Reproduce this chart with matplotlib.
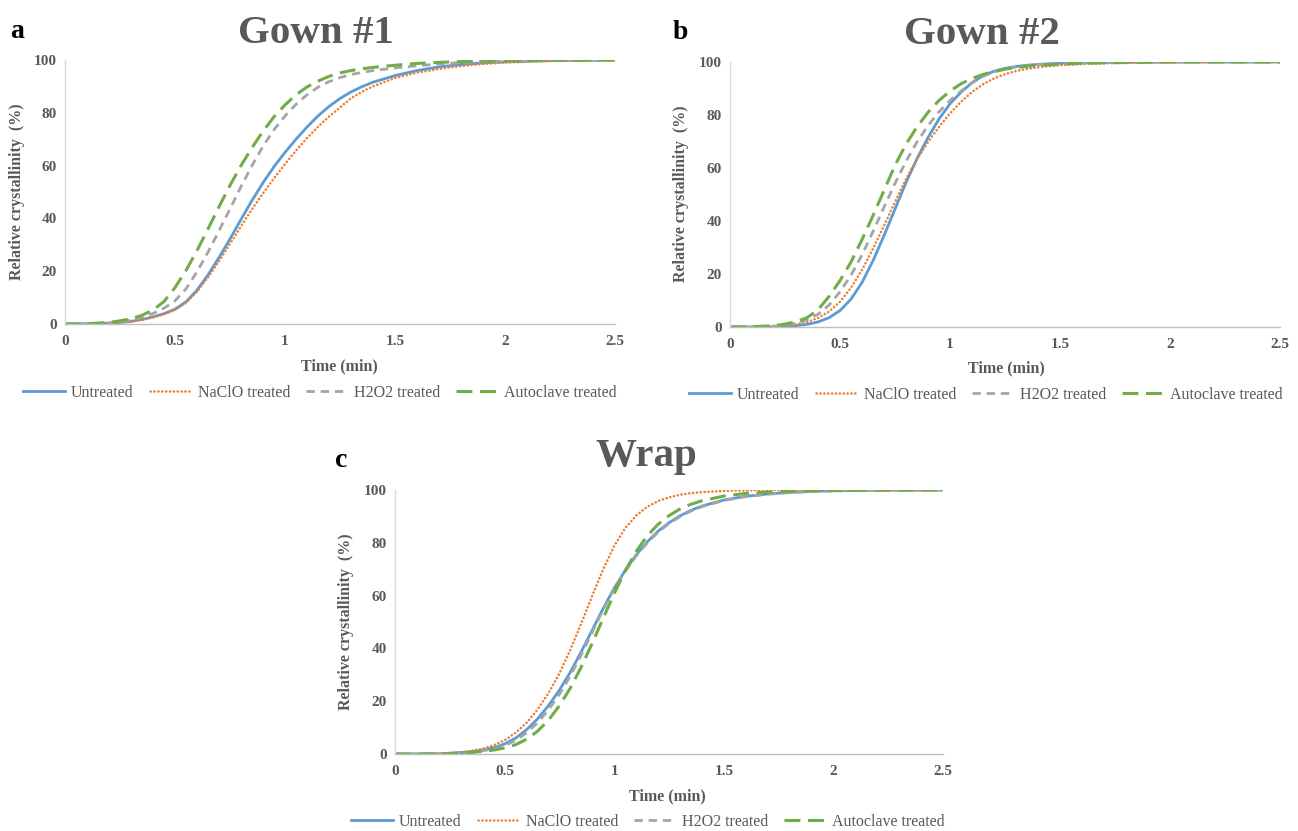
import matplotlib
matplotlib.use("Agg")
import matplotlib.pyplot as plt
from matplotlib.lines import Line2D

plt.rcParams['font.family'] = ['Liberation Serif', 'DejaVu Serif']

# ---------------- data ----------------
time_min = [0, 0.1, 0.2, 0.25, 0.3, 0.35, 0.4, 0.45, 0.5, 0.55, 0.6, 0.65, 0.7, 0.75,
            0.8, 0.85, 0.9, 0.95, 1.0, 1.05, 1.1, 1.15, 1.2, 1.25, 1.3, 1.35, 1.4,
            1.5, 1.6, 1.7, 1.8, 1.9, 2.0, 2.2, 2.5]

series_names = ["Untreated", "NaClO treated", "H2O2 treated", "Autoclave treated"]

# Gown #1
gown1_untreated = [0, 0.05, 0.3, 0.6, 1.0, 1.7, 2.7, 3.9, 5.6, 8.4, 12.8, 18.6, 25.2, 32.2,
                   39.6, 46.8, 53.5, 59.6, 65.0, 70.0, 74.6, 78.8, 82.4, 85.4, 87.9, 89.9, 91.6,
                   94.1, 96.0, 97.4, 98.3, 98.9, 99.3, 99.75, 100]
gown1_naclo = [0, 0.05, 0.3, 0.6, 1.0, 1.6, 2.5, 3.7, 5.3, 8.0, 12.2, 17.7, 23.8, 30.3,
               37.0, 43.5, 49.5, 55.2, 60.6, 65.7, 70.4, 74.7, 78.6, 82.0, 85.5, 88.0, 90.0,
               93.2, 95.2, 96.6, 97.7, 98.5, 99.0, 99.6, 100]
gown1_h2o2 = [0, 0.05, 0.4, 0.8, 1.5, 2.6, 4.0, 6.0, 8.8, 13.3, 19.8, 27.2, 35.3, 43.6,
              52.0, 60.0, 67.3, 73.6, 78.8, 83.2, 86.8, 89.7, 91.8, 93.3, 94.5, 95.3, 96.0,
              97.0, 97.8, 98.5, 99.0, 99.4, 99.6, 99.85, 100]
gown1_autoclave = [0, 0.1, 0.6, 1.2, 2.0, 3.3, 5.3, 8.5, 13.8, 20.3, 27.8, 36.0, 44.4, 52.5,
                   60.0, 66.8, 73.0, 78.5, 83.0, 86.8, 89.8, 92.0, 93.8, 95.1, 96.0, 96.7, 97.2,
                   98.0, 98.7, 99.1, 99.4, 99.6, 99.8, 99.9, 100]

# Gown #2
gown2_untreated = [0, 0.0, 0.1, 0.25, 0.5, 1.0, 1.9, 3.5, 6.2, 10.5, 16.8, 25.0, 34.5, 44.5,
                   54.5, 63.5, 71.5, 78.5, 84.2, 88.6, 92.2, 94.8, 96.5, 97.6, 98.3, 98.8, 99.1,
                   99.5, 99.7, 99.85, 99.9, 99.95, 100, 100, 100]
gown2_naclo = [0, 0.0, 0.2, 0.5, 1.0, 1.9, 3.4, 5.8, 9.5, 14.8, 21.5, 29.5, 38.2, 47.2,
               55.8, 63.3, 69.8, 75.5, 80.6, 85.0, 88.7, 91.6, 93.8, 95.4, 96.6, 97.4, 98.0,
               98.8, 99.2, 99.5, 99.7, 99.85, 99.9, 100, 100]
gown2_h2o2 = [0, 0.0, 0.3, 0.7, 1.5, 2.8, 4.8, 8.2, 13.3, 19.5, 27.2, 36.0, 45.2, 54.2,
              62.5, 69.8, 76.0, 81.2, 85.5, 89.0, 92.1, 94.6, 96.3, 97.4, 98.1, 98.6, 98.95,
              99.4, 99.7, 99.85, 99.9, 99.95, 100, 100, 100]
gown2_autoclave = [0, 0.1, 0.5, 1.1, 2.0, 3.5, 6.5, 11.5, 17.5, 24.5, 33.0, 42.0, 51.5, 61.0,
                   69.0, 75.5, 81.0, 85.5, 89.0, 91.8, 93.8, 95.3, 96.4, 97.3, 97.9, 98.4, 98.7,
                   99.2, 99.5, 99.7, 99.8, 99.9, 100, 100, 100]

# Wrap
wrap_untreated = [0, 0.0, 0.1, 0.3, 0.5, 0.9, 1.5, 2.4, 3.8, 6.0, 9.2, 13.3, 18.3, 24.2,
                  31.0, 38.8, 47.0, 55.2, 62.8, 69.5, 75.4, 80.3, 84.4, 87.6, 90.2, 92.3, 93.9,
                  96.2, 97.6, 98.5, 99.1, 99.5, 99.7, 99.9, 100]
wrap_naclo = [0, 0.0, 0.2, 0.4, 0.7, 1.2, 2.0, 3.3, 5.2, 8.0, 11.8, 16.8, 23.0, 30.5,
              39.5, 49.5, 60.0, 70.0, 78.8, 85.5, 90.3, 93.6, 95.8, 97.2, 98.2, 98.8, 99.2,
              99.65, 99.85, 99.95, 100, 100, 100, 100, 100]
wrap_h2o2 = [0, 0.0, 0.1, 0.2, 0.4, 0.7, 1.2, 2.0, 3.2, 5.1, 8.0, 11.8, 16.7, 22.6,
             29.6, 37.6, 46.2, 54.8, 62.6, 69.2, 75.0, 79.9, 84.0, 87.3, 89.9, 92.0, 93.7,
             96.0, 97.5, 98.4, 99.0, 99.4, 99.7, 99.9, 100]
wrap_autoclave = [0, 0.0, 0.05, 0.15, 0.35, 0.6, 1.0, 1.5, 2.3, 3.5, 5.6, 8.6, 12.8, 18.3,
                  25.0, 33.0, 42.0, 51.5, 60.8, 69.3, 76.7, 82.6, 87.0, 90.3, 92.8, 94.6, 95.9,
                  97.7, 98.7, 99.2, 99.5, 99.7, 99.85, 99.95, 100]

x_ticks = [0, 0.5, 1, 1.5, 2, 2.5]
x_tick_labels = ["0", "0.5", "1", "1.5", "2", "2.5"]
y_ticks = [0, 20, 40, 60, 80, 100]

panels = [
    dict(title="Gown #1", letter="a",
         data=[gown1_untreated, gown1_naclo, gown1_h2o2, gown1_autoclave],
         box=(65, 60, 615, 324), title_xy=(316, 43), letter_xy=(10, 38),
         ylab_xy=(17, 192), xlab_xy=(339, 366), leg_xy=(320, 393)),
    dict(title="Gown #2", letter="b",
         data=[gown2_untreated, gown2_naclo, gown2_h2o2, gown2_autoclave],
         box=(730, 62, 1280, 327), title_xy=(982, 44), letter_xy=(673, 39),
         ylab_xy=(681, 194), xlab_xy=(1006, 368), leg_xy=(986, 395)),
    dict(title="Wrap", letter="c",
         data=[wrap_untreated, wrap_naclo, wrap_h2o2, wrap_autoclave],
         box=(395, 490, 943, 754), title_xy=(646, 466), letter_xy=(335, 467),
         ylab_xy=(346, 622), xlab_xy=(667, 796), leg_xy=(648, 822)),
]

styles = [
    dict(color="#5B9BD5", lw=2.0, ls="-"),
    dict(color="#ED7D31", lw=1.8, ls=(0, (0.1, 1.45)), dash_capstyle="round"),
    dict(color="#A5A5A5", lw=2.0, ls=(0, (3.0, 2.1))),
    dict(color="#70AD47", lw=2.2, ls=(0, (5.2, 2.5))),
]

TXT = "#595959"
W, H = 1298, 831
fig = plt.figure(figsize=(W / 100, H / 100), dpi=100)


def fx(x):
    return x / W


def fy(y):
    return 1 - y / H


for p in panels:
    l, t, r, b = p["box"]
    ax = fig.add_axes([fx(l), fy(b), (r - l) / W, (b - t) / H])
    for vals, st in zip(p["data"], styles):
        ax.plot(time_min, vals, color=st["color"], lw=st["lw"], linestyle=st["ls"],
                dash_capstyle=st.get("dash_capstyle", "butt"), solid_capstyle="butt")
    ax.set_xlim(0, 2.5)
    ax.set_ylim(0, 100)
    ax.set_xticks(x_ticks)
    ax.set_xticklabels(x_tick_labels)
    ax.set_yticks(y_ticks)
    for s in ("top", "right"):
        ax.spines[s].set_visible(False)
    ax.spines["left"].set_color("#D9D9D9")
    ax.spines["bottom"].set_color("#BFBFBF")
    ax.spines["left"].set_linewidth(1.0)
    ax.spines["bottom"].set_linewidth(1.0)
    ax.tick_params(axis="both", length=0, labelsize=11, labelcolor=TXT)
    ax.tick_params(axis="x", pad=8)
    ax.tick_params(axis="y", pad=6)
    for lab in ax.get_xticklabels() + ax.get_yticklabels():
        lab.set_fontweight("bold")
    ax.patch.set_alpha(0)

    fig.text(fx(p["title_xy"][0]), fy(p["title_xy"][1]), p["title"], ha="center",
             va="baseline", fontsize=29.5, fontweight="bold", color=TXT)
    fig.text(fx(p["letter_xy"][0]), fy(p["letter_xy"][1]), p["letter"], ha="left",
             va="baseline", fontsize=20, fontweight="bold", color="black")
    fig.text(fx(p["ylab_xy"][0]), fy(p["ylab_xy"][1]), "Relative crystallinity  (%)",
             rotation=90, ha="center", va="center", fontsize=11.5, fontweight="bold",
             color=TXT)
    fig.text(fx(p["xlab_xy"][0]), fy(p["xlab_xy"][1]), "Time (min)", ha="center",
             va="center", fontsize=11.5, fontweight="bold", color=TXT)

    handles = [Line2D([], [], color=st["color"], lw=st["lw"], linestyle=st["ls"],
                      dash_capstyle=st.get("dash_capstyle", "butt")) for st in styles]
    leg = ax.legend(handles, series_names, loc="center", ncol=4, frameon=False,
                    bbox_to_anchor=(fx(p["leg_xy"][0]), fy(p["leg_xy"][1])),
                    bbox_transform=fig.transFigure, fontsize=11.5,
                    handlelength=2.6, handletextpad=0.4, columnspacing=1.0,
                    borderpad=0, borderaxespad=0)
    for txt in leg.get_texts():
        txt.set_color(TXT)

fig.savefig("out.png", dpi=100)
